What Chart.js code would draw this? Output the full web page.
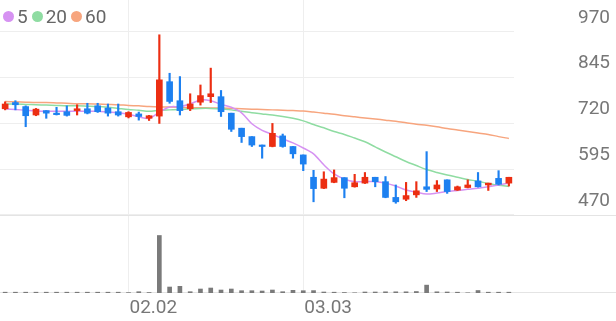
<!DOCTYPE html>
<html>
<head>
<meta charset="utf-8">
<script src="https://cdn.jsdelivr.net/npm/chart.js@4.4.0/dist/chart.umd.min.js"></script>
<style>
  html, body { margin: 0; padding: 0; background: #fff; }
  #chart-wrap { position: relative; width: 616px; height: 321px; }
  #legend {
    position: absolute; left: 3px; top: 5px;
    display: flex; align-items: center;
    font-family: Roboto, "Noto Sans", sans-serif; font-size: 19px; color: #666;
  }
  .legend-item { display: flex; align-items: center; margin-right: 4px; }
  .legend-dot { width: 11px; height: 11px; border-radius: 50%; margin-right: 3px; }
</style>
</head>
<body>
<div id="chart-wrap">
  <canvas id="priceChart"></canvas>
  <div id="legend"></div>
</div>
<script>
// daily candles 01.15 ~ 03.31
const dates = [
  "01.15", "01.16", "01.19", "01.20", "01.21", "01.22", "01.23", "01.26", "01.27", "01.28",
  "01.29", "01.30", "02.02", "02.03", "02.04", "02.05", "02.06", "02.09", "02.10", "02.11",
  "02.12", "02.13", "02.19", "02.20", "02.23", "02.24", "02.25", "02.26", "02.27", "03.03",
  "03.04", "03.05", "03.06", "03.09", "03.10", "03.11", "03.12", "03.13", "03.16", "03.17",
  "03.18", "03.19", "03.20", "03.23", "03.24", "03.25", "03.26", "03.27", "03.30", "03.31",
];
const opens = [
  760, 777, 766, 743, 755, 748, 752, 755, 760, 768,
  762, 752, 738, 746, 734, 740, 834, 782, 760, 778,
  793, 793, 748, 707, 684, 661, 657, 686, 657, 634,
  573, 543, 559, 572, 547, 557, 573, 561, 518, 513,
  525, 547, 541, 566, 538, 545, 563, 552, 570, 557,
];
const highs = [
  779, 782, 768, 761, 755, 764, 768, 771, 775, 775,
  773, 773, 752, 751, 742, 962, 857, 848, 801, 825,
  871, 810, 748, 707, 684, 661, 720, 691, 657, 634,
  592, 588, 593, 572, 581, 586, 573, 575, 552, 559,
  561, 643, 564, 566, 549, 566, 586, 557, 591, 573,
];
const lows = [
  757, 757, 711, 741, 734, 743, 740, 743, 746, 750,
  740, 740, 735, 729, 728, 720, 775, 743, 755, 770,
  777, 739, 698, 668, 657, 625, 656, 655, 625, 591,
  506, 542, 558, 517, 546, 556, 547, 517, 502, 509,
  518, 534, 534, 529, 537, 544, 546, 537, 552, 549,
];
const closes = [
  773, 771, 741, 759, 748, 744, 742, 760, 748, 752,
  748, 743, 750, 739, 741, 839, 780, 755, 773, 796,
  801, 752, 704, 684, 661, 657, 693, 657, 637, 609,
  542, 568, 572, 543, 558, 573, 561, 518, 506, 523,
  536, 540, 552, 534, 547, 552, 547, 557, 554, 573,
];
const ma5 = [
  760, 758, 756, 754, 753, 753, 753, 753, 753, 753,
  751, 749, 745, 738, 734, 751, 765, 766, 773, 784,
  782, 772, 764, 749, 719, 701, 690, 678, 667, 653,
  637, 607, 582, 568, 561, 561, 561, 557, 549, 538,
  532, 527, 530, 534, 537, 540, 543, 547, 552, 557,
];
const ma20 = [
  773, 773, 772, 771, 770, 769, 768, 768, 767, 766,
  764, 761, 758, 756, 753, 756, 757, 758, 760, 761,
  761, 760, 757, 753, 749, 746, 743, 739, 734, 727,
  717, 708, 698, 690, 680, 670, 656, 642, 629, 616,
  605, 594, 586, 579, 573, 567, 562, 556, 551, 548,
];
const ma60 = [
  780, 779, 778, 777, 777, 776, 775, 774, 774, 773,
  772, 771, 769, 768, 766, 765, 765, 764, 763, 763,
  762, 762, 761, 760, 759, 758, 757, 756, 755, 754,
  751, 748, 745, 741, 738, 735, 732, 729, 726, 722,
  718, 715, 711, 706, 702, 698, 694, 690, 684, 679,
];
const volumes = [
  8, 8, 8, 8, 8, 8, 8, 8, 8, 8,
  8, 8, 4, 13, 5, 577, 60, 67, 13, 40,
  50, 30, 40, 23, 23, 20, 30, 13, 27, 23,
  24, 10, 8, 5, 2, 10, 10, 12, 12, 12,
  15, 79, 12, 10, 8, 2, 25, 8, 8, 8,
];
const priceTicks = [470, 595, 720, 845, 970];
const shownDates = ["02.02", "03.03"];
const maNames = ["5", "20", "60"];
const maColors = ["#d692f2", "#8fdca2", "#f7a57e"];

const UP_COLOR = "#ec2e12";
const DOWN_COLOR = "#1d80f0";
const GRID_COLOR = "#eeeeee";

const candle_colors = closes.map((c, i) => (c >= opens[i] ? UP_COLOR : DOWN_COLOR));

function buildLegend() {
  const legend = document.getElementById("legend");
  maNames.forEach((name, i) => {
    const item = document.createElement("div");
    item.className = "legend-item";
    const dot = document.createElement("span");
    dot.className = "legend-dot";
    dot.style.background = maColors[i];
    const label = document.createElement("span");
    label.textContent = name;
    item.appendChild(dot);
    item.appendChild(label);
    legend.appendChild(item);
  });
}

// full-width lines under the price pane and under the volume bars
const paneLines = {
  id: "paneLines",
  beforeDatasetsDraw(chart) {
    const ctx = chart.ctx;
    const y_price = Math.round(chart.scales.y.getPixelForValue(priceTicks[0])) + 0.5;
    const y_base = Math.round(chart.scales.yv.getPixelForValue(0)) - 0.5;
    ctx.save();
    ctx.strokeStyle = "#e4e4e4";
    ctx.lineWidth = 1;
    ctx.beginPath();
    ctx.moveTo(0, y_price);
    ctx.lineTo(chart.width, y_price);
    ctx.moveTo(0, y_base);
    ctx.lineTo(chart.width, y_base);
    ctx.stroke();
    ctx.restore();
  },
};

function maDataset(idx, values) {
  return {
    type: "line",
    label: maNames[idx],
    data: values,
    yAxisID: "y",
    borderColor: maColors[idx],
    borderWidth: 1.5,
    pointRadius: 0,
    tension: 0.3,
    order: 5 + idx,
  };
}

function drawChart() {
  const ctx = document.getElementById("priceChart").getContext("2d");
  new Chart(ctx, {
    type: "bar",
    data: {
      labels: dates,
      datasets: [
        {
          label: "wick",
          data: lows.map((l, i) => [l, highs[i]]),
          yAxisID: "y",
          backgroundColor: candle_colors,
          barThickness: 1.5,
          grouped: false,
          order: 1,
        },
        {
          label: "body",
          data: opens.map((o, i) => [o, closes[i]]),
          yAxisID: "y",
          backgroundColor: candle_colors,
          barThickness: 6,
          minBarLength: 1.5,
          grouped: false,
          order: 0,
        },
        maDataset(0, ma5),
        maDataset(1, ma20),
        maDataset(2, ma60),
        {
          label: "volume",
          data: volumes,
          yAxisID: "yv",
          backgroundColor: "#7a7a7a",
          barThickness: 4,
          grouped: false,
          order: 2,
        },
      ],
    },
    options: {
      responsive: true,
      maintainAspectRatio: false,
      animation: false,
      layout: { padding: 0 },
      plugins: {
        legend: { display: false },
        tooltip: { enabled: false },
      },
      scales: {
        x: {
          type: "category",
          offset: true,
          border: { display: false },
          grid: {
            offset: false,
            drawTicks: false,
            color: (c) =>
              c.tick && shownDates.includes(dates[c.index]) ? GRID_COLOR : "rgba(0,0,0,0)",
          },
          ticks: {
            autoSkip: false,
            maxRotation: 0,
            align: "start",
            padding: 4,
            labelOffset: 1,
            color: "#777",
            font: { family: "Roboto", size: 19 },
            callback: function (value) {
              const d = this.getLabelForValue(value);
              return shownDates.includes(d) ? d : "";
            },
          },
          afterFit: (scale) => {
            scale.height = 28;
            scale.paddingLeft = 0;
            scale.paddingRight = 0;
          },
        },
        y: {
          position: "right",
          min: 257,
          max: 1057,
          border: { display: false },
          grid: { color: GRID_COLOR, drawTicks: false },
          afterBuildTicks: (scale) => {
            scale.ticks = priceTicks.map((v) => ({ value: v }));
          },
          ticks: {
            padding: 64,
            labelOffset: -14,
            color: "#777",
            font: { family: "Roboto", size: 19 },
          },
          afterFit: (scale) => {
            scale.width = 102;
            scale.paddingTop = 0;
            scale.paddingBottom = 0;
          },
        },
        yv: {
          display: false,
          min: 0,
          max: 2940,
        },
      },
    },
    plugins: [paneLines],
  });
}

buildLegend();
drawChart();
</script>
</body>
</html>
